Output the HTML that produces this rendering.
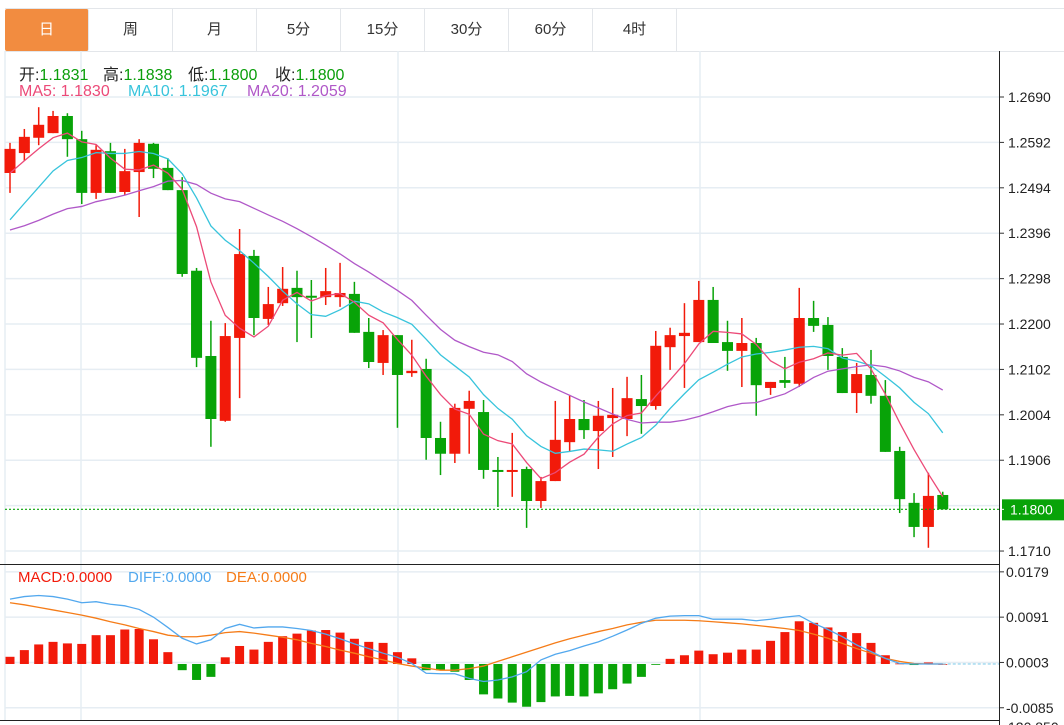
<!DOCTYPE html>
<html><head><meta charset="utf-8">
<style>
body{margin:0;background:#fff;width:1064px;height:725px;overflow:hidden;font-family:"Liberation Sans","Noto Sans CJK SC",sans-serif;}
#tabs{position:absolute;left:5px;top:8px;height:42px;display:flex;border-top:1px solid #e3e6ea;border-bottom:1px solid #e3e6ea;width:1059px}
.tab{width:83px;height:42px;line-height:42px;text-align:center;font-size:15px;color:#333;border-right:1px solid #e3e6ea;font-family:"Liberation Sans","Noto Sans CJK SC",sans-serif}
.tab.active{background:#f28c40;color:#fff;border-radius:2px}
svg{position:absolute;left:0;top:0}
.lg{position:absolute;white-space:nowrap;font-size:16px}
.lm{position:absolute;white-space:nowrap;font-size:15px}
</style></head><body>
<div id="tabs">
<div class="tab active">日</div>
<div class="tab">周</div>
<div class="tab">月</div>
<div class="tab">5分</div>
<div class="tab">15分</div>
<div class="tab">30分</div>
<div class="tab">60分</div>
<div class="tab">4时</div>
</div>
<svg id="chart" width="1064" height="725" font-family="Liberation Sans, Noto Sans CJK SC, sans-serif"></svg>
<script>
const opens=[1.2526,1.2569,1.2602,1.2612,1.2649,1.2599,1.2483,1.2573,1.2485,1.2528,1.2589,1.2537,1.2489,1.2315,1.2131,1.1991,1.2170,1.2347,1.2211,1.2245,1.2278,1.2261,1.2258,1.2258,1.2265,1.2183,1.2116,1.2176,1.2094,1.2103,1.1954,1.1920,1.2017,1.2010,1.1885,1.1883,1.1887,1.1818,1.1861,1.1945,1.1995,1.1969,1.1997,1.1995,1.2038,1.2023,1.2150,1.2174,1.2161,1.2252,1.2161,1.2142,1.2159,1.2062,1.2079,1.2071,1.2213,1.2198,1.2129,1.2051,1.2090,1.2045,1.1926,1.1814,1.1762,1.1831];
const highs=[1.2591,1.2621,1.2668,1.2660,1.2655,1.2617,1.2586,1.2591,1.2578,1.2599,1.2591,1.2558,1.2517,1.2321,1.2207,1.2202,1.2405,1.2360,1.2280,1.2323,1.2315,1.2295,1.2321,1.2332,1.2291,1.2213,1.2187,1.2176,1.2166,1.2125,1.1989,1.2028,1.2056,1.2036,1.1913,1.1965,1.1892,1.1870,1.2034,1.2047,1.2036,1.2034,1.2062,1.2086,1.2090,1.2185,1.2192,1.2245,1.2293,1.2280,1.2207,1.2213,1.2170,1.2075,1.2129,1.2278,1.2250,1.2215,1.2148,1.2116,1.2144,1.2079,1.1935,1.1835,1.1879,1.1838];
const lows=[1.2483,1.2552,1.2586,1.2612,1.2561,1.2459,1.2470,1.2483,1.2479,1.2431,1.2515,1.2489,1.2302,1.2107,1.1935,1.1989,1.2040,1.2176,1.2198,1.2239,1.2161,1.2170,1.2241,1.2237,1.2181,1.2105,1.2090,1.1976,1.2086,1.1907,1.1874,1.1900,1.1920,1.1866,1.1805,1.1827,1.1760,1.1803,1.1861,1.1924,1.1952,1.1887,1.1913,1.1958,1.1963,1.2015,1.2101,1.2062,1.2161,1.2159,1.2099,1.2064,1.2002,1.2047,1.2062,1.2064,1.2183,1.2101,1.2051,1.2008,1.2028,1.1924,1.1792,1.1740,1.1717,1.1800];
const closes=[1.2578,1.2604,1.2630,1.2649,1.2599,1.2483,1.2576,1.2483,1.2530,1.2591,1.2535,1.2489,1.2308,1.2127,1.1995,1.2174,1.2351,1.2213,1.2243,1.2276,1.2258,1.2258,1.2271,1.2267,1.2181,1.2118,1.2176,1.2090,1.2099,1.1954,1.1920,1.2019,1.2034,1.1885,1.1883,1.1885,1.1818,1.1861,1.1950,1.1995,1.1971,1.2002,1.2004,1.2040,1.2023,1.2153,1.2176,1.2181,1.2252,1.2159,1.2142,1.2159,1.2068,1.2075,1.2073,1.2213,1.2196,1.2131,1.2051,1.2092,1.2045,1.1924,1.1822,1.1762,1.1829,1.1800];
const priorCloses=[1.2420,1.2400,1.2380,1.2360,1.2390,1.2370,1.2350,1.2380,1.2400,1.2360,1.2250,1.2280,1.2300,1.2372,1.2420,1.2470,1.2500,1.2530,1.2550];
const priceTicks=[1.2690,1.2592,1.2494,1.2396,1.2298,1.2200,1.2102,1.2004,1.1906,1.1710];
const macdHist=[0.0014,0.0027,0.0038,0.0043,0.0040,0.0039,0.0056,0.0056,0.0067,0.0068,0.0048,0.0023,-0.0012,-0.0031,-0.0025,0.0013,0.0035,0.0028,0.0043,0.0054,0.0059,0.0065,0.0066,0.0061,0.0049,0.0043,0.0041,0.0023,0.0011,-0.0012,-0.0012,-0.0015,-0.0031,-0.0059,-0.0067,-0.0075,-0.0083,-0.0074,-0.0063,-0.0062,-0.0063,-0.0057,-0.0049,-0.0038,-0.0025,-0.0001,0.0010,0.0017,0.0026,0.0019,0.0022,0.0028,0.0028,0.0045,0.0062,0.0083,0.0080,0.0071,0.0062,0.0060,0.0041,0.0017,0.0001,-0.0002,0.0003,0.0000];
const diffVals=[0.0126,0.0131,0.0133,0.0131,0.0126,0.0119,0.0121,0.0116,0.0113,0.0106,0.0091,0.0071,0.0050,0.0039,0.0047,0.0069,0.0077,0.0070,0.0072,0.0072,0.0069,0.0065,0.0058,0.0049,0.0039,0.0030,0.0021,0.0013,0.0001,-0.0018,-0.0019,-0.0019,-0.0028,-0.0034,-0.0031,-0.0025,-0.0015,0.0008,0.0019,0.0026,0.0035,0.0043,0.0054,0.0066,0.0079,0.0089,0.0093,0.0094,0.0094,0.0087,0.0087,0.0087,0.0084,0.0087,0.0091,0.0094,0.0079,0.0067,0.0053,0.0037,0.0024,0.0011,0.0001,0.0000,0.0000,0.0000];
const deaVals=[0.0119,0.0115,0.0110,0.0105,0.0100,0.0095,0.0089,0.0082,0.0076,0.0069,0.0063,0.0056,0.0053,0.0053,0.0056,0.0061,0.0063,0.0060,0.0056,0.0052,0.0047,0.0040,0.0034,0.0027,0.0021,0.0014,0.0008,0.0001,-0.0004,-0.0008,-0.0012,-0.0012,-0.0009,-0.0004,0.0005,0.0014,0.0023,0.0032,0.0041,0.0049,0.0056,0.0063,0.0069,0.0076,0.0081,0.0085,0.0085,0.0085,0.0084,0.0082,0.0080,0.0078,0.0075,0.0072,0.0069,0.0065,0.0058,0.0050,0.0040,0.0030,0.0021,0.0011,0.0005,0.0001,0.0000,0.0000];
const macdTicks=[0.0179,0.0091,0.0003,-0.0085];

const NS='http://www.w3.org/2000/svg';
const svg=document.getElementById('chart');
function mk(tag,attrs,parent){const e=document.createElementNS(NS,tag);for(const k in attrs)e.setAttribute(k,attrs[k]);(parent||svg).appendChild(e);return e;}
const xOf=i=>10+i*14.35;
const yP=p=>97+(1.2690-p)*4633;
const yM=v=>664-v*5148;
const RED='#f21a0a',GREEN='#08a308';

const grid=mk('g',{});


[81,398,700].forEach(x=>{mk('line',{x1:x,x2:x,y1:51,y2:720,stroke:'#e6edf3','stroke-width':1.5},grid);});
priceTicks.forEach(t=>{mk('line',{x1:5,x2:1000,y1:yP(t),y2:yP(t),stroke:'#e6edf3','stroke-width':1.5},grid);});
mk('line',{x1:5,x2:1000,y1:yP(1.1808),y2:yP(1.1808),stroke:'#e6edf3','stroke-width':1.5},grid);
macdTicks.forEach(t=>{mk('line',{x1:5,x2:1000,y1:yM(t),y2:yM(t),stroke:'#e6edf3','stroke-width':1.5},grid);});
mk('line',{x1:5,x2:5,y1:51,y2:720,stroke:'#e6edf3','stroke-width':1.5},grid);

const pax=mk('g',{});


mk('line',{x1:999.5,x2:999.5,y1:51,y2:725,stroke:'#222','stroke-width':1},pax);
priceTicks.forEach(t=>{
  const y=yP(t);
  mk('line',{x1:1000,x2:1004,y1:y,y2:y,stroke:'#333'},pax);
  const tx=mk('text',{x:1008,y:y+5,'font-size':14,fill:'#222'},pax);tx.textContent=t.toFixed(4);
});

const all=priorCloses.concat(closes);
function ma(n){return closes.map((c,i)=>{const j=i+priorCloses.length;let s=0;for(let k=j-n+1;k<=j;k++)s+=all[k];return s/n;});}
function line(vals,color,name,yf){
  const p=mk('polyline',{points:vals.map((v,i)=>xOf(i)+','+yf(v)).join(' '),fill:'none',stroke:color,'stroke-width':1.3});
  
  
}

const cg=mk('g',{});


closes.forEach((c,i)=>{
  const o=opens[i],x=xOf(i),col=c>=o?RED:GREEN;
  const g=mk('g',{},cg);
  
  
  mk('line',{x1:x,x2:x,y1:yP(highs[i]),y2:yP(lows[i]),stroke:col,'stroke-width':1.5},g);
  const t=Math.min(yP(o),yP(c)),h=Math.max(2,Math.abs(yP(o)-yP(c)));
  mk('rect',{x:x-5.5,y:t,width:11,height:h,fill:col},g);
});
line(ma(20),'#b058c8','ma20-line',yP);
line(ma(10),'#38c4dc','ma10-line',yP);
line(ma(5),'#ec4a78','ma5-line',yP);

const last=closes[closes.length-1];
const cp=mk('line',{x1:5,x2:1000,y1:yP(last),y2:yP(last),stroke:GREEN,'stroke-dasharray':'2,2','stroke-width':1.2});


const cpr=mk('rect',{x:1002,y:yP(last)-10,width:62,height:21,fill:GREEN});


mk('line',{x1:1000,x2:1004,y1:yP(last),y2:yP(last),stroke:'#fff'});
const cpt=mk('text',{x:1010,y:yP(last)+5,'font-size':14,fill:'#fff'});cpt.textContent=last.toFixed(4);

mk('line',{x1:0,x2:1000,y1:564.5,y2:564.5,stroke:'#222'});
mk('line',{x1:0,x2:1000,y1:720.5,y2:720.5,stroke:'#222'});

const mg=mk('g',{});


macdHist.forEach((v,i)=>{
  const y0=yM(0),y1=yM(v);
  const r=mk('rect',{x:xOf(i)-4.5,y:Math.min(y0,y1),width:9,height:Math.max(0.8,Math.abs(y1-y0)),fill:v>=0?RED:GREEN},mg);
  
  
});
mk('line',{x1:xOf(macdHist.length-1),x2:999,y1:yM(0),y2:yM(0),stroke:'#7ccbea','stroke-dasharray':'3,2'});
line(deaVals,'#f57c18','dea-line',yM);
line(diffVals,'#52a8ee','diff-line',yM);
const max=mk('g',{});


macdTicks.forEach(t=>{
  const y=yM(t);
  mk('line',{x1:1000,x2:1004,y1:y,y2:y,stroke:'#333'},max);
  const tx=mk('text',{x:1006,y:y+5,'font-size':14,fill:'#222'},max);tx.textContent=t.toFixed(4);
});
const cut=mk('text',{x:1008,y:732,'font-size':14,fill:'#222'});cut.textContent='120.850';
</script>
<div>
<div class="lg" style="left:19px;top:61px;color:#222">开:<span style="color:#0a9e0a">1.1831</span></div>
<div class="lg" style="left:103px;top:61px;color:#222">高:<span style="color:#0a9e0a">1.1838</span></div>
<div class="lg" style="left:188px;top:61px;color:#222">低:<span style="color:#0a9e0a">1.1800</span></div>
<div class="lg" style="left:275px;top:61px;color:#222">收:<span style="color:#0a9e0a">1.1800</span></div>
</div>
<div>
<div class="lg" style="left:19px;top:83px;color:#ec4a78">MA5: 1.1830</div>
<div class="lg" style="left:128px;top:83px;color:#38c4dc">MA10: 1.1967</div>
<div class="lg" style="left:247px;top:83px;color:#b058c8">MA20: 1.2059</div>
</div>
<div>
<div class="lm" style="left:18px;top:569px;color:#f21a0a">MACD:0.0000</div>
<div class="lm" style="left:128px;top:569px;color:#52a8ee">DIFF:0.0000</div>
<div class="lm" style="left:226px;top:569px;color:#f57c18">DEA:0.0000</div>
</div>
</body></html>
